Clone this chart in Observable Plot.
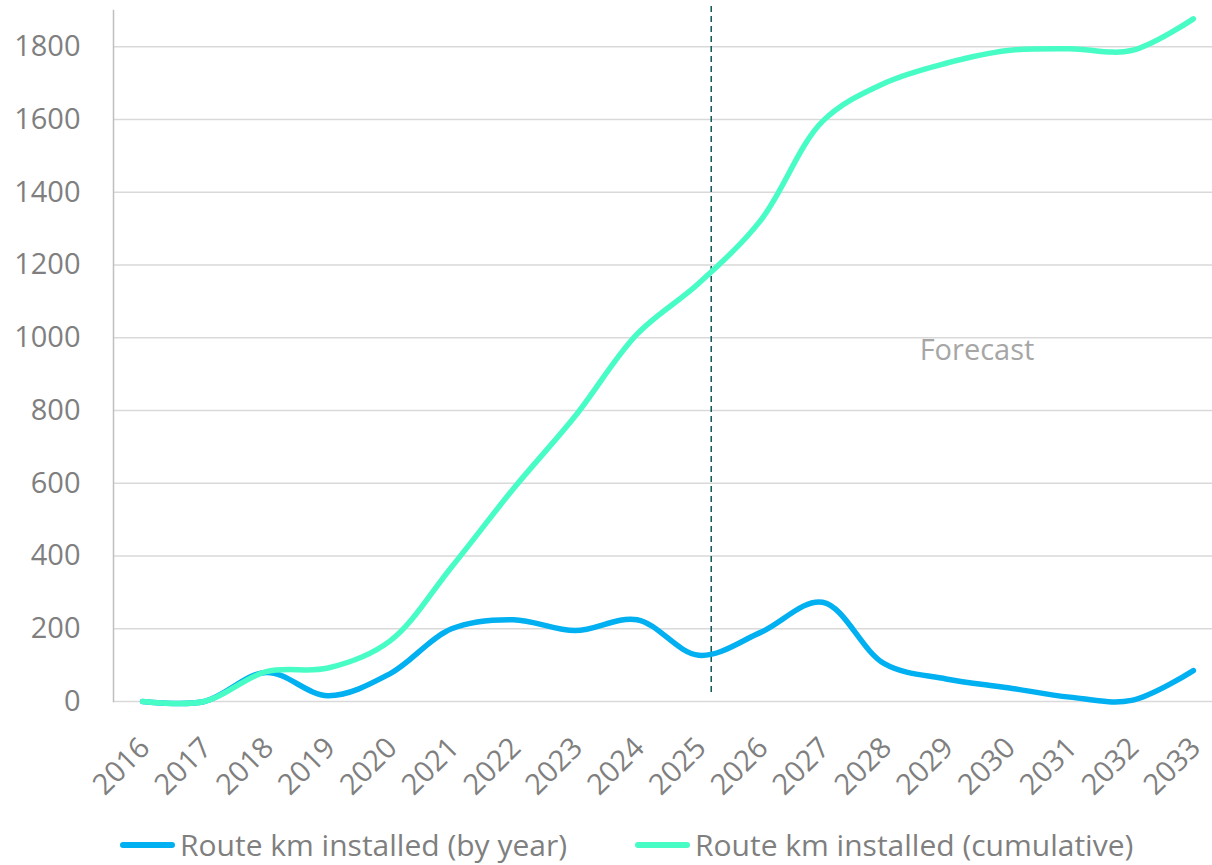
<!DOCTYPE html>
<html><head><meta charset="utf-8">
<script src="https://cdn.jsdelivr.net/npm/d3@7"></script>
<script src="https://cdn.jsdelivr.net/npm/@observablehq/plot@0.6"></script>
<style>
body{margin:0;background:#fff;font-family:"Open Sans",sans-serif;}
#chart{position:relative;width:1212px;height:865px;overflow:hidden}
.item{position:absolute;top:829px;height:32px;display:flex;align-items:center;font-size:30px;color:#7F7F7F;white-space:nowrap;line-height:32px}
.sw{width:55px;height:6px;border-radius:3px;margin-right:5px}
</style></head><body><div id="chart"></div>
<script>
const years = [2016,2017,2018,2019,2020,2021,2022,2023,2024,2025,2026,2027,2028,2029,2030,2031,2032,2033];
const byYear = [0,0,80,16,76,200,225,195,225,127,190,273,104,62,38,12,3,85];
const cumulative = [0,0,82,92,166,370,585,785,1010,1150,1323,1595,1700,1755,1790,1795,1790,1877];
const yTicks = [0,200,400,600,800,1000,1200,1400,1600,1800];
const seriesNames = ["Route km installed (by year)","Route km installed (cumulative)"];
const seriesColors = ["#00B0F0","#48FCC6"];
const forecastYear = 2025.2;
const forecastSpan = [25, 1915];
const forecastLabel = ["Forecast"];
const forecastLabelAt = [2029.5, 965];

const rows = [];
years.forEach((yr,i)=>{
  rows.push({year:yr, value:byYear[i], series:seriesNames[0]});
});
years.forEach((yr,i)=>{
  rows.push({year:yr, value:cumulative[i], series:seriesNames[1]});
});

const plot = Plot.plot({
  width: 1212,
  height: 810,
  marginLeft: 113,
  marginRight: 0,
  marginTop: 10,
  marginBottom: 109,
  style: {fontFamily: '"Open Sans", sans-serif', fontSize: "29px", color: "#7F7F7F", background: "#fff"},
  x: {domain: [2015.53, 2033.31], axis: null},
  y: {domain: [0, 1900], axis: null},
  color: {domain: seriesNames, range: seriesColors},
  marks: [
    Plot.ruleY(yTicks, {stroke: "#D9D9D9", strokeWidth: 1.5}),
    Plot.frame({anchor: "left", stroke: "#BFBFBF", strokeWidth: 1.5}),
    Plot.axisY(yTicks, {tickSize: 0, tickPadding: 33, fontSize: 29, fill: "#7F7F7F", label: null, tickFormat: d => String(d)}),
    Plot.text(years, {x: d => d, frameAnchor: "bottom", text: d => String(d), rotate: -45, textAnchor: "end", lineAnchor: "bottom", dx: 9, dy: 48, fontSize: 29, fill: "#7F7F7F"}),
    Plot.ruleX([forecastYear], {y1: forecastSpan[0], y2: forecastSpan[1], stroke: "#0E5757", strokeWidth: 1.5, strokeDasharray: "6,4"}),
    Plot.text(forecastLabel, {x: forecastLabelAt[0], y: forecastLabelAt[1], text: d => d, fontSize: 29, fill: "#A6A6A6", textAnchor: "middle", lineAnchor: "middle"}),
    Plot.line(rows.filter(r => r.series === seriesNames[0]), {x: "year", y: "value", stroke: "series", strokeWidth: 5.5, curve: "catmull-rom", strokeLinecap: "round", strokeLinejoin: "round"}),
    Plot.line(rows.filter(r => r.series === seriesNames[1]), {x: "year", y: "value", stroke: "series", strokeWidth: 5.5, curve: "catmull-rom", strokeLinecap: "round", strokeLinejoin: "round"})
  ]
});
const chart = document.getElementById("chart");
chart.appendChild(plot);
const lefts = [120, 635];
seriesNames.forEach((name, i) => {
  const item = document.createElement("div");
  item.className = "item";
  item.style.left = lefts[i] + "px";
  const sw = document.createElement("span");
  sw.className = "sw";
  sw.style.background = seriesColors[i];
  const t = document.createElement("span");
  t.textContent = name;
  item.appendChild(sw);
  item.appendChild(t);
  chart.appendChild(item);
});
</script></body></html>
